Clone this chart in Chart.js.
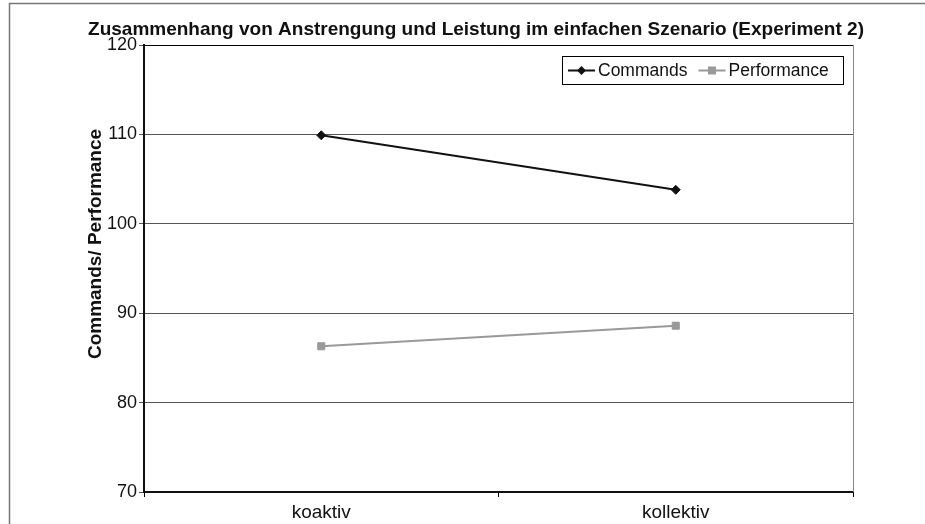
<!DOCTYPE html>
<html>
<head>
<meta charset="utf-8">
<script src="https://cdn.jsdelivr.net/npm/chart.js@4.4.1/dist/chart.umd.min.js"></script>
<style>
  html, body { margin: 0; padding: 0; background: #fff; }
  #wrap { width: 925px; height: 524px; position: relative; }
</style>
</head>
<body>
<div id="wrap"><canvas id="effort-chart"></canvas></div>
<script>
const categories = ['koaktiv', 'kollektiv'];
const commands = [109.9, 103.8];
const performance = [86.3, 88.6];
const yTicks = [70, 80, 90, 100, 110, 120];

const chartTitle = 'Zusammenhang von Anstrengung und Leistung im einfachen Szenario (Experiment 2)';
const yTitle = 'Commands/ Performance';
const fontFamily = '"Liberation Sans", Arial, sans-serif';

// frame, title, y title, right border and boxed legend
const decorations = {
  id: 'decorations',
  beforeDraw(chart) {
    const ctx = chart.ctx;
    ctx.save();
    ctx.strokeStyle = '#777';
    ctx.lineWidth = 1.5;
    ctx.strokeRect(9.5, 3.5, 930, 540);
    ctx.restore();
  },
  afterDraw(chart) {
    const ctx = chart.ctx;
    const area = chart.chartArea;
    ctx.save();
    // plot box top/right
    ctx.strokeStyle = '#000';
    ctx.lineWidth = 1;
    ctx.beginPath();
    ctx.moveTo(area.left, area.top + 0.5);
    ctx.lineTo(area.right, area.top + 0.5);
    ctx.stroke();
    ctx.strokeStyle = '#888';
    ctx.beginPath();
    ctx.moveTo(area.right + 0.5, area.top);
    ctx.lineTo(area.right + 0.5, area.bottom);
    ctx.stroke();

    // title
    ctx.fillStyle = '#111';
    ctx.font = 'bold 19px ' + fontFamily;
    ctx.textAlign = 'center';
    ctx.textBaseline = 'middle';
    ctx.fillText(chartTitle, 476, 30);

    // y axis title
    ctx.save();
    ctx.translate(96, 244);
    ctx.rotate(-Math.PI / 2);
    ctx.font = 'bold 19px ' + fontFamily;
    ctx.fillText(yTitle, 0, 0);
    ctx.restore();

    // legend
    const lx = 562, ly = 56, lw = 281, lh = 28;
    ctx.fillStyle = '#fff';
    ctx.fillRect(lx, ly, lw, lh);
    ctx.strokeStyle = '#000';
    ctx.lineWidth = 1;
    ctx.strokeRect(lx + 0.5, ly + 0.5, lw, lh);
    ctx.font = '17.5px ' + fontFamily;
    ctx.textAlign = 'left';
    let x = lx + 6;
    const cy = ly + lh / 2 + 0.5;
    chart.data.datasets.forEach(ds => {
      ctx.strokeStyle = ds.borderColor;
      ctx.lineWidth = ds.borderWidth;
      ctx.beginPath();
      ctx.moveTo(x, cy);
      ctx.lineTo(x + 27, cy);
      ctx.stroke();
      ctx.fillStyle = ds.pointBackgroundColor;
      if (ds.pointStyle === 'rectRot') {
        ctx.beginPath();
        ctx.moveTo(x + 13.5, cy - 4.5);
        ctx.lineTo(x + 18, cy);
        ctx.lineTo(x + 13.5, cy + 4.5);
        ctx.lineTo(x + 9, cy);
        ctx.closePath();
        ctx.fill();
      } else {
        ctx.fillRect(x + 9.5, cy - 4, 8, 8);
      }
      ctx.fillStyle = '#111';
      ctx.fillText(ds.label, x + 30, cy + 1);
      x += 30 + ctx.measureText(ds.label).width + 11;
    });
    ctx.restore();
  }
};

new Chart(document.getElementById('effort-chart'), {
  type: 'line',
  data: {
    labels: categories,
    datasets: [{
      label: 'Commands',
      data: commands,
      borderColor: '#111',
      backgroundColor: '#111',
      pointBackgroundColor: '#111',
      pointBorderColor: '#111',
      borderWidth: 2,
      pointStyle: 'rectRot',
      pointRadius: 4.5,
      pointBorderWidth: 1
    }, {
      label: 'Performance',
      data: performance,
      borderColor: '#999',
      backgroundColor: '#999',
      pointBackgroundColor: '#999',
      pointBorderColor: '#999',
      borderWidth: 2,
      pointStyle: 'rect',
      pointRadius: 5,
      pointBorderWidth: 1
    }]
  },
  options: {
    responsive: true,
    maintainAspectRatio: false,
    animation: false,
    layout: { padding: { top: 45, right: 72, left: 0, bottom: 0 } },
    plugins: {
      legend: { display: false },
      title: { display: false },
      tooltip: { enabled: false }
    },
    scales: {
      x: {
        offset: true,
        grid: { offset: true, drawOnChartArea: false, drawTicks: true, tickLength: 5, color: '#000' },
        border: { color: '#111', width: 2 },
        ticks: { color: '#111', font: { family: fontFamily, size: 19 }, padding: 4 },
        afterFit(scale) { scale.height = 32; }
      },
      y: {
        min: yTicks[0],
        max: yTicks[yTicks.length - 1],
        afterBuildTicks(scale) { scale.ticks = yTicks.map(v => ({ value: v })); },
        grid: { color: '#555', lineWidth: 1, tickLength: 5 },
        border: { color: '#111', width: 2 },
        ticks: { color: '#111', font: { family: fontFamily, size: 18 }, padding: 2 },
        afterFit(scale) { scale.width = 144; }
      }
    }
  },
  plugins: [decorations]
});
</script>
</body>
</html>
